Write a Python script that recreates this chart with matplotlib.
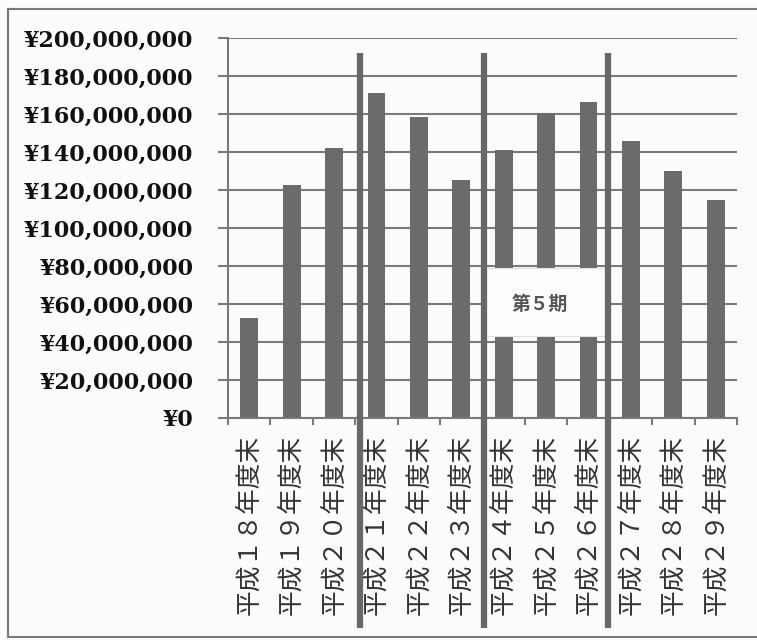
import matplotlib.pyplot as plt
from matplotlib.lines import Line2D
from matplotlib.ticker import FuncFormatter, MultipleLocator
import matplotlib.transforms as mtransforms

plt.rcParams['font.family'] = ['Noto Sans CJK JP', 'DejaVu Sans']

# 年度末ごとの金額（円）
years = ['平成１８年度末', '平成１９年度末', '平成２０年度末',
         '平成２１年度末', '平成２２年度末', '平成２３年度末',
         '平成２４年度末', '平成２５年度末', '平成２６年度末',
         '平成２７年度末', '平成２８年度末', '平成２９年度末']
amounts = [52600000, 122600000, 142300000,
           171200000, 158600000, 125300000,
           141000000, 160400000, 166200000,
           146000000, 130000000, 114700000]

# 期の区切り（カテゴリ位置）
period_breaks = [2.6, 5.53, 8.45]
period_label = '第５期'

grey = '#6b6b6b'
line_grey = '#7a7a7a'

fig = plt.figure(figsize=(7.57, 6.4), dpi=100, facecolor='#fcfcfc')
ax = fig.add_axes([0.3012, 0.3469, 0.9736 - 0.3012, 0.9406 - 0.3469])
ax.set_facecolor('#fcfcfc')

x = list(range(len(years)))
ax.bar(x, amounts, width=0.42, color=grey, zorder=2)

ax.set_xlim(-0.5, len(years) - 0.5)
ax.set_ylim(0, 200000000)
ax.yaxis.set_major_locator(MultipleLocator(20000000))
ax.yaxis.set_major_formatter(FuncFormatter(lambda v, p: '¥{:,.0f}'.format(v)))
ax.grid(axis='y', color=line_grey, lw=1.5, zorder=1)
ax.set_axisbelow(True)

for side in ['top', 'right']:
    ax.spines[side].set_visible(False)
for side in ['left', 'bottom']:
    ax.spines[side].set_color(line_grey)
    ax.spines[side].set_linewidth(1.5)

ax.tick_params(axis='y', length=7, width=1.5, color=line_grey, pad=18)
for lab in ax.get_yticklabels():
    lab.set_family('DejaVu Serif')
    lab.set_fontweight('bold')
    lab.set_fontsize(16)
    lab.set_color('#111111')

# カテゴリ境界の目盛り
ax.set_xticks(x)
ax.set_xticklabels(years, rotation=90, fontsize=18.5, color='#333333')
ax.set_xticks([i - 0.5 for i in range(len(years) + 1)], minor=True)
ax.tick_params(axis='x', which='major', length=0, pad=12)
ax.tick_params(axis='x', which='minor', length=5, width=1.5, color=line_grey)

# 期の区切り線
trans = mtransforms.blended_transform_factory(ax.transData, ax.transAxes)
for b in period_breaks:
    ax.plot([b, b], [-0.553, 0.961], transform=trans, color='#686868',
            lw=4.5, solid_capstyle='butt', clip_on=False, zorder=5)

# 第５期のラベル
ax.add_patch(plt.Rectangle((0.507, 0.216), 0.234, 0.179, transform=ax.transAxes,
                           facecolor='#fdfdfd', edgecolor='#e0e0e0', lw=0.8, zorder=4))
ax.text(0.612, 0.299, period_label, transform=ax.transAxes, ha='center', va='center',
        fontsize=13.5, fontweight='bold', color='#555555', zorder=6)

# 外枠
fig.add_artist(Line2D([8 / 757, 8 / 757], [1 - 9 / 640, 1 - 637 / 640],
                      color=line_grey, lw=1.5))
fig.add_artist(Line2D([8 / 757, 1], [1 - 9 / 640, 1 - 9 / 640],
                      color=line_grey, lw=1.5))
fig.add_artist(Line2D([8 / 757, 1], [1 - 637 / 640, 1 - 637 / 640],
                      color=line_grey, lw=1.5))

fig.savefig('out.png', dpi=100, facecolor=fig.get_facecolor())
